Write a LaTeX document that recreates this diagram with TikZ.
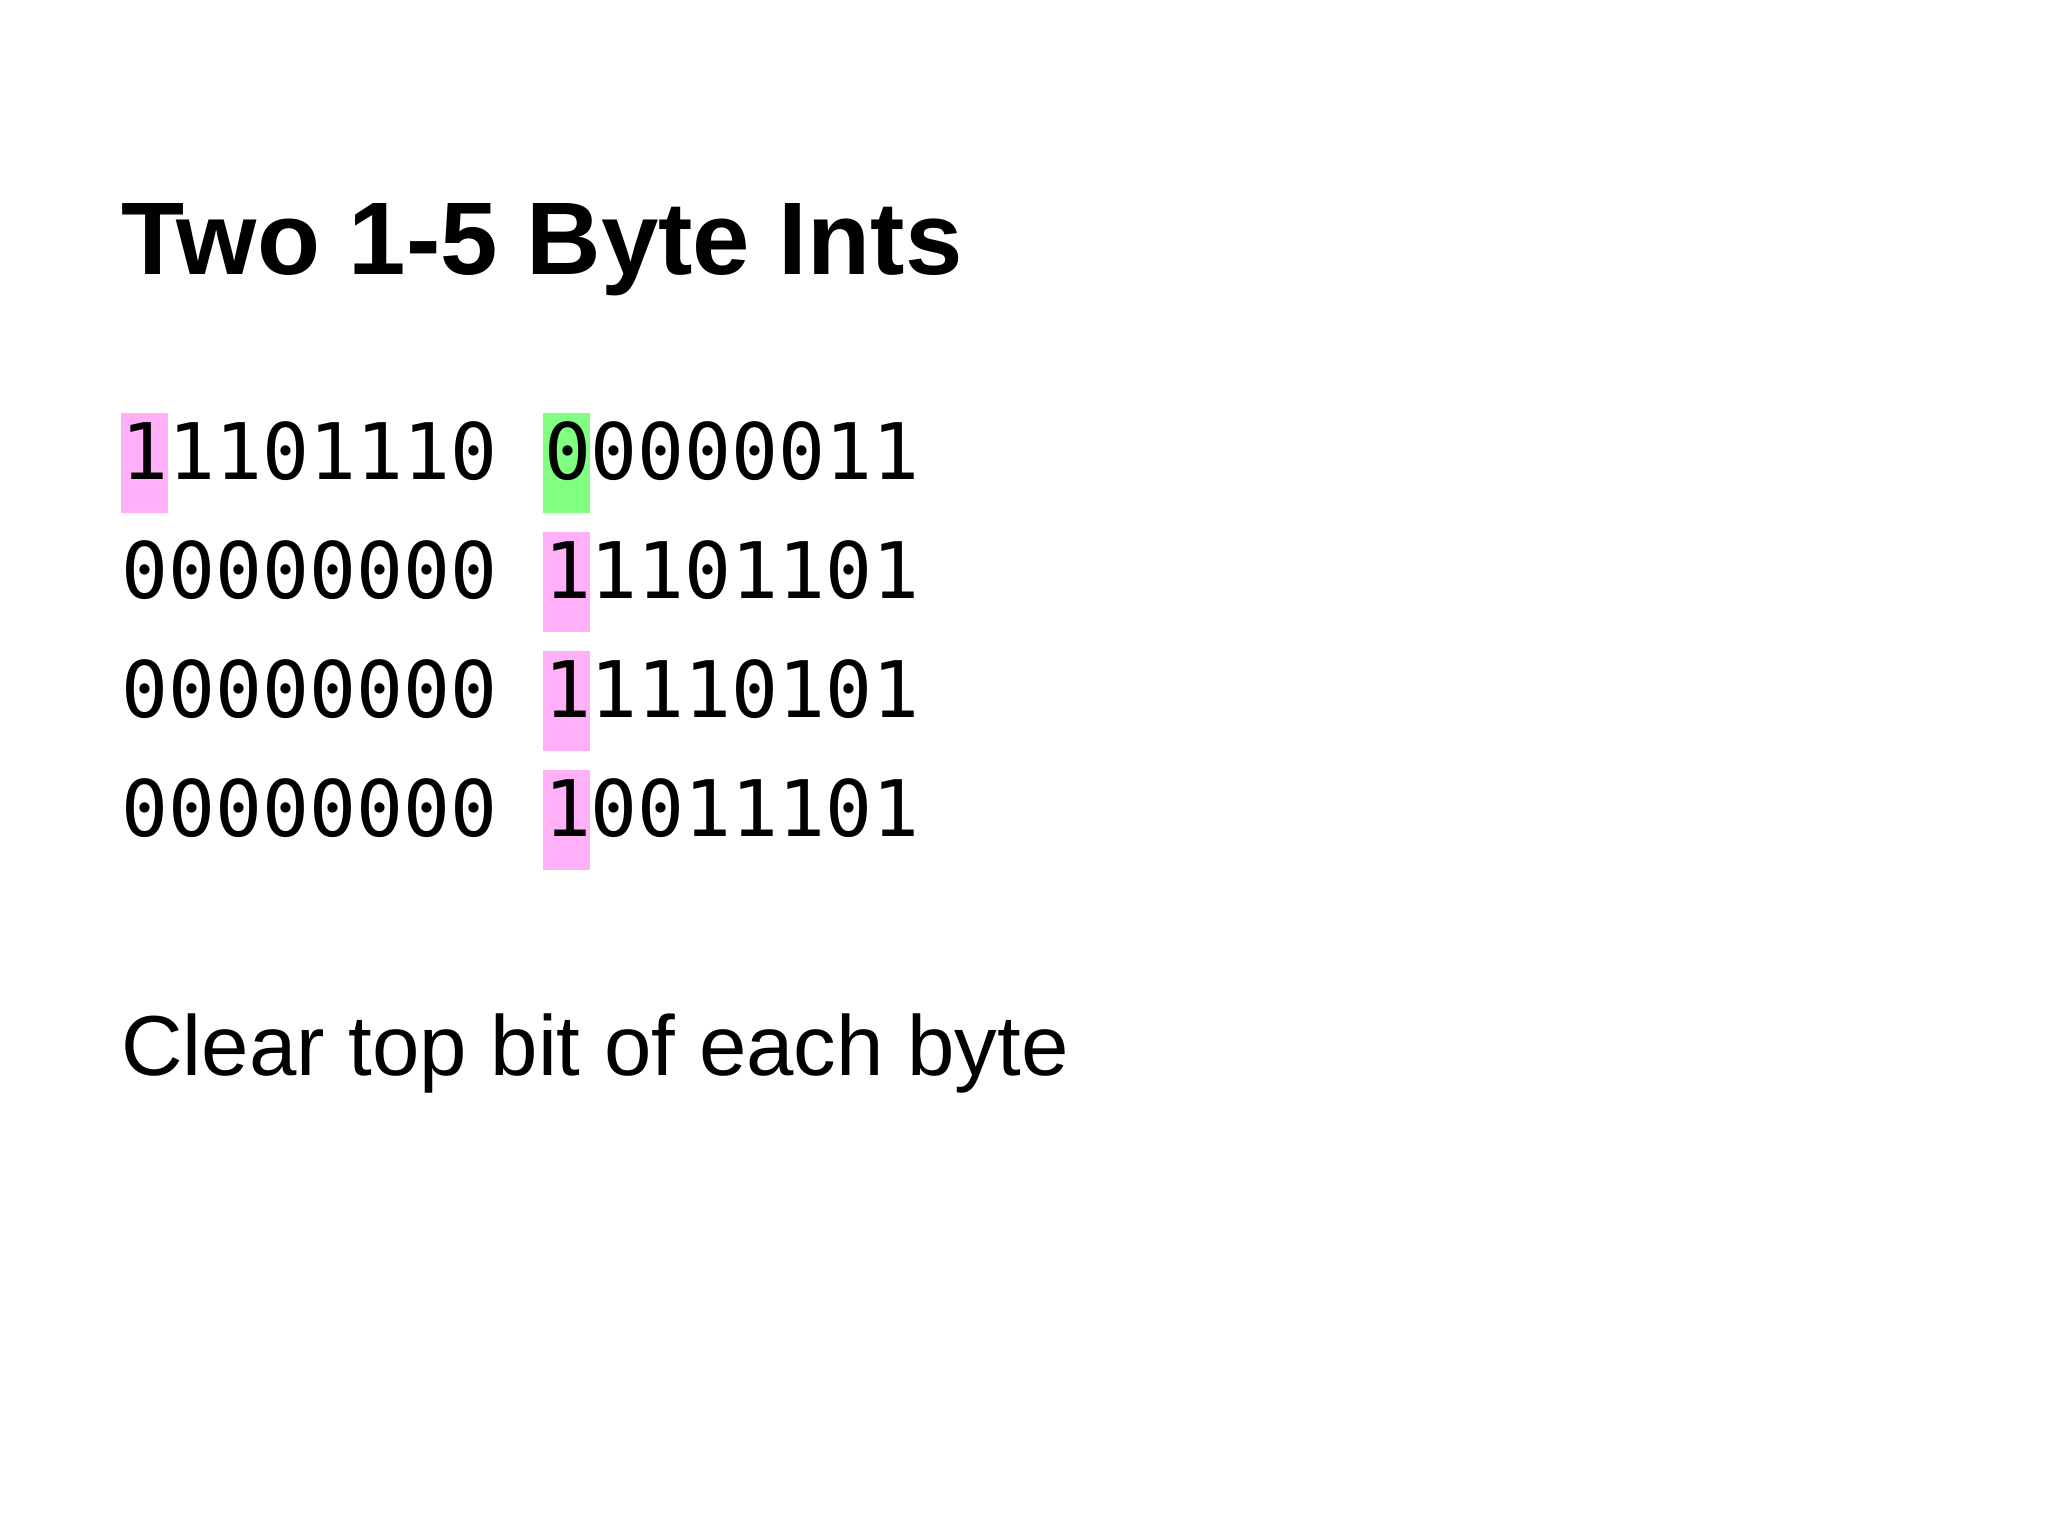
\documentclass[tikz,border=0pt]{standalone}
\usepackage{fontspec}
\setmainfont{Liberation Sans}
\newfontfamily\bitsfont{DejaVu Sans Mono}
\definecolor{hlpink}{RGB}{255,176,246}
\definecolor{hlgreen}{RGB}{128,255,128}
\tikzset{
  titletext/.style={anchor=base west, inner sep=0pt, font=\fontsize{51.6pt}{51.6pt}\selectfont\bfseries},
  bitstext/.style={anchor=base west, inner sep=0pt, font=\fontsize{39pt}{39pt}\selectfont\bitsfont},
  bodytext/.style={anchor=base west, inner sep=0pt, font=\fontsize{42.6pt}{42.6pt}\selectfont}
}
\begin{document}
\begin{tikzpicture}[x=0.5pt,y=-0.5pt]
\useasboundingbox[fill=white] (0,0) rectangle (2048,1536);
% highlights
\fill[hlpink]  (121,413) rectangle (168,513);
\fill[hlgreen] (543,413) rectangle (590,513);
\fill[hlpink]  (543,532) rectangle (590,632);
\fill[hlpink]  (543,651) rectangle (590,751);
\fill[hlpink]  (543,770) rectangle (590,870);
% text
\node[titletext] (title) at (121,274) {Two 1-5 Byte Ints};
\node[bitstext] (r1) at (121,479) {11101110 00000011};
\node[bitstext] (r2) at (121,598) {00000000 11101101};
\node[bitstext] (r3) at (121,717) {00000000 11110101};
\node[bitstext] (r4) at (121,836) {00000000 10011101};
\node[bodytext] (note) at (121,1075) {Clear top bit of each byte};
\end{tikzpicture}
\end{document}
